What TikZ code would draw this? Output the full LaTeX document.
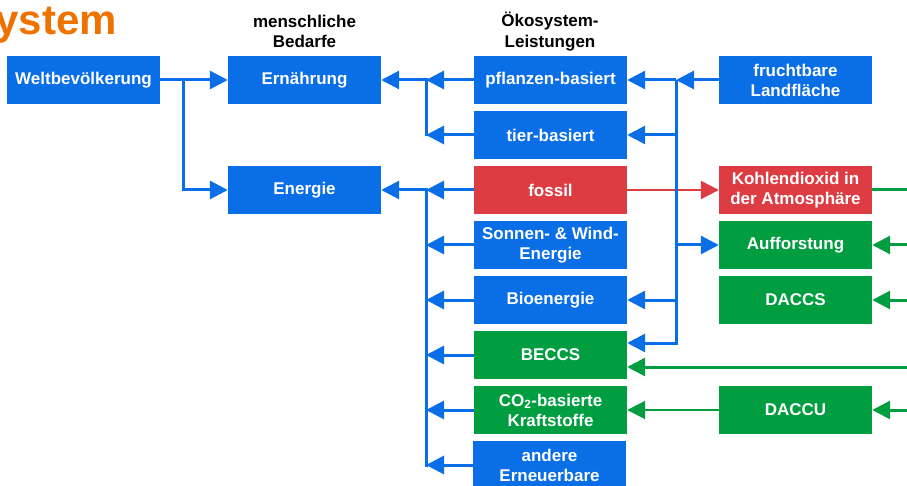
\documentclass[tikz,border=0pt]{standalone}
\usepackage{fontspec}
\setmainfont{Liberation Sans}
\usetikzlibrary{arrows.meta}
\definecolor{ecoblue}{RGB}{10,110,230}
\definecolor{ecored}{RGB}{220,60,66}
\definecolor{ecogreen}{RGB}{0,158,64}
\definecolor{ecoorange}{RGB}{238,114,0}
\begin{document}
\begin{tikzpicture}[x=1pt, y=-1pt,
    box/.style={minimum width=153pt, minimum height=48pt, inner sep=0pt, align=center,
        text=white, font=\fontsize{17}{20}\selectfont\bfseries},
    bluebox/.style={box, fill=ecoblue},
    redbox/.style={box, fill=ecored},
    greenbox/.style={box, fill=ecogreen},
    head/.style={inner sep=0pt, align=center, font=\fontsize{17}{20.5}\selectfont\bfseries},
    bline/.style={ecoblue, line width=3pt, line cap=rect},
    bflow/.style={ecoblue, line width=3pt, -{Triangle[length=18pt, width=18pt]}},
    gline/.style={ecogreen, line width=3pt},
    gflow/.style={ecogreen, line width=3pt, -{Triangle[length=18pt, width=18pt]}},
    rflow/.style={ecored, line width=2.5pt, -{Triangle[length=18pt, width=18pt]}}]
    \useasboundingbox (0,0) rectangle (907,486);
    % Title and headings
    \node[anchor=base east, inner sep=0pt, text=ecoorange,
        font=\fontsize{42}{48}\selectfont\bfseries] (title) at (117,35) {System};
    \node[head] (bedarf) at (304.5,31.5) {menschliche\\Bedarfe};
    \node[head] (leist)  at (550,31.5)   {Ökosystem-\\Leistungen};
    % Nodes
    \node[bluebox]  (welt)   at (83.5,80)  {Weltbevölkerung};
    \node[bluebox]  (ern)    at (304.5,80) {Ernährung};
    \node[bluebox]  (ene)    at (304.5,190) {Energie};
    \node[bluebox]  (pfl)    at (550.5,80)  {pflanzen-basiert};
    \node[bluebox]  (tier)   at (550.5,135) {tier-basiert};
    \node[redbox]   (fossil) at (550.5,190) {fossil};
    \node[bluebox]  (sonne)  at (550.5,245) {Sonnen- \& Wind-\\Energie};
    \node[bluebox]  (bio)    at (550.5,300) {Bioenergie};
    \node[greenbox] (beccs)  at (550.5,355) {BECCS};
    \node[greenbox] (co2k)   at (550.5,410) {CO\textsubscript{2}-basierte\\Kraftstoffe};
    \node[bluebox]  (andere) at (549.5,465) {andere\\Erneuerbare};
    \node[bluebox]  (land)   at (795.5,80)  {fruchtbare\\Landfläche};
    \node[redbox]   (kohle)  at (795.5,190) {Kohlendioxid in\\der Atmosphäre};
    \node[greenbox] (auff)   at (795.5,245) {Aufforstung};
    \node[greenbox] (daccs)  at (795.5,300) {DACCS};
    \node[greenbox] (daccu)  at (795.5,410) {DACCU};
    % Bus points
    \coordinate (wbus) at (183,80);
    \coordinate (nbus) at (426,80);
    \coordinate (gbus) at (426,190);
    \coordinate (lbus) at (676,80);
    \coordinate (rim)  at (925,0);
    \coordinate (beccsb) at ([yshift=12pt]beccs.east);
    \coordinate (beccsg) at ([yshift=-12pt]beccs.east);
    % Population to needs
    \draw[bflow] (welt.east) -- (ern.west);
    \draw[bflow] (wbus) |- (ene.west);
    % Food
    \draw[bline] (nbus) -- (tier.west -| nbus);
    \draw[bflow] (pfl.west) -- (nbus);
    \draw[bflow] (tier.west) -- (tier.west -| nbus);
    \draw[bflow] (nbus) -- (ern.east);
    % Energy
    \draw[bline] (gbus) -- (andere.west -| gbus);
    \foreach \n in {fossil, sonne, bio, beccs, co2k, andere}
        \draw[bflow] (\n.west) -- (\n.west -| gbus);
    \draw[bflow] (gbus) -- (ene.east);
    % Carbon dioxide
    \draw[rflow] (fossil.east) -- (kohle.west);
    \draw[gline] (kohle.east) -- (kohle.east -| rim);
    % Land
    \draw[bflow] (land.west) -- (lbus);
    \draw[bflow] (lbus) |- (beccsb);
    \draw[bflow] (lbus) -- (pfl.east);
    \draw[bflow] (tier.east -| lbus) -- (tier.east);
    \draw[bflow] (bio.east -| lbus) -- (bio.east);
    \draw[bflow] (auff.west -| lbus) -- (auff.west);
    % Removal from the right
    \draw[gflow] (auff.east -| rim) -- (auff.east);
    \draw[gflow] (daccs.east -| rim) -- (daccs.east);
    \draw[gflow] (beccsg -| rim) -- (beccsg);
    \draw[gflow] (daccu.east -| rim) -- (daccu.east);
    \draw[gflow, line width=2pt] (daccu.west) -- (co2k.east);
\end{tikzpicture}
\end{document}
